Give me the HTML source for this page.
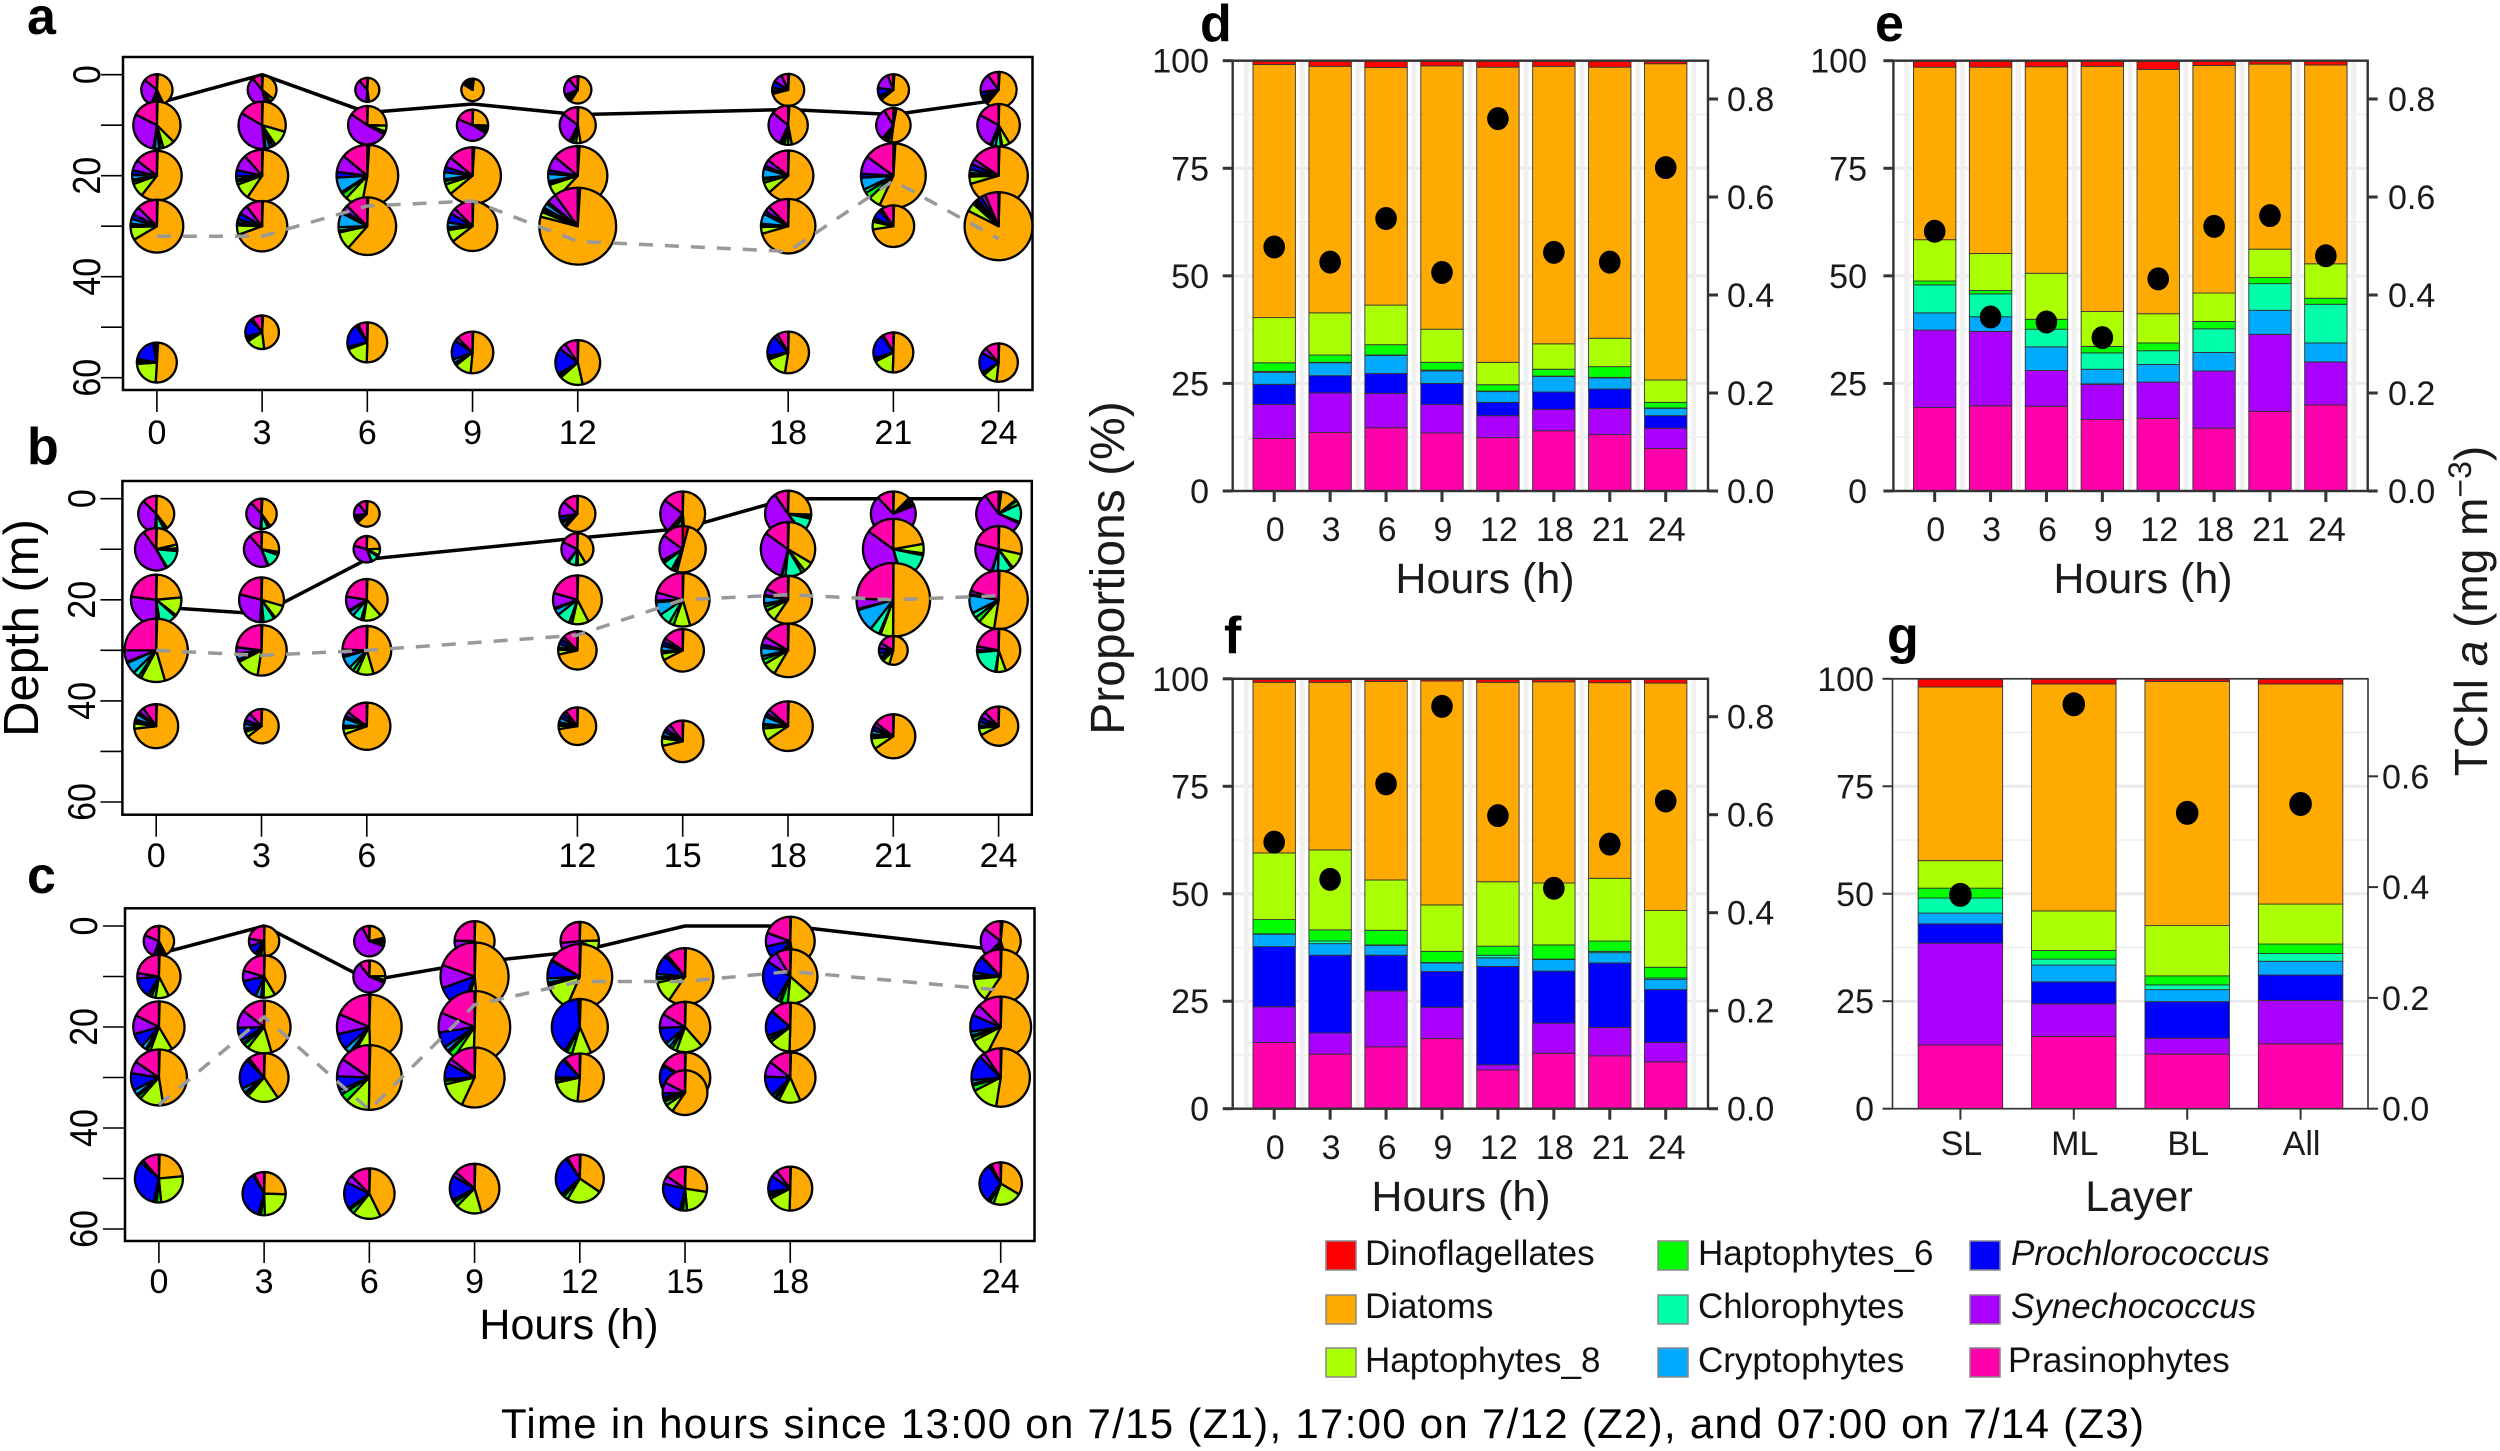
<!DOCTYPE html>
<html lang="en">
<head>
<meta charset="utf-8">
<title>Phytoplankton pigment composition panels</title>
<style>
html,body{margin:0;padding:0;background:#fff;}
svg{display:block;font-family:"Liberation Sans",Arial,sans-serif;}
</style>
</head>
<body>
<svg id="figure" xmlns="http://www.w3.org/2000/svg" width="2500" height="1451" viewBox="0 0 2500 1451">
<rect x="0" y="0" width="2500" height="1451" fill="#fff"/>
<g id="panel-a"></g>
<g id="panel-b"></g>
<g id="panel-c"></g>
<g id="panel-d"></g>
<g id="panel-e"></g>
<g id="panel-f"></g>
<g id="panel-g"></g>

<g font-weight="700" font-size="52" fill="#000">
<text x="27" y="34">a</text>
<text x="27" y="464">b</text>
<text x="27" y="893">c</text>
<text x="1200" y="41">d</text>
<text x="1875" y="41">e</text>
<text x="1224" y="653">f</text>
<text x="1887" y="653">g</text>
</g>

<text transform="translate(38 628) rotate(-90)" text-anchor="middle" font-size="49" fill="#000">Depth (m)</text>
<text x="569" y="1339" text-anchor="middle" font-size="43" fill="#000">Hours (h)</text>
<text x="1485" y="593" text-anchor="middle" font-size="43" fill="#1a1a1a">Hours (h)</text>
<text x="2143" y="593" text-anchor="middle" font-size="43" fill="#1a1a1a">Hours (h)</text>
<text x="1461" y="1211" text-anchor="middle" font-size="43" fill="#1a1a1a">Hours (h)</text>
<text x="2139" y="1211" text-anchor="middle" font-size="43" fill="#1a1a1a">Layer</text>
<text transform="translate(1124 568) rotate(-90)" text-anchor="middle" font-size="48" fill="#1a1a1a">Proportions (%)</text>
<text transform="translate(2487 611) rotate(-90)" text-anchor="middle" font-size="46" fill="#1a1a1a">TChl <tspan font-style="italic">a</tspan> (mg m<tspan font-size="32" dy="-16">−3</tspan><tspan dy="16">)</tspan></text>

<g id="legend" font-size="35" fill="#111">
<g><rect x="1326" y="1241" width="30" height="29" fill="#ff0000" stroke="#888" stroke-width="1.5"/><text x="1365" y="1265">Dinoflagellates</text></g>
<g><rect x="1326" y="1295" width="30" height="29" fill="#ffaa00" stroke="#888" stroke-width="1.5"/><text x="1365" y="1318">Diatoms</text></g>
<g><rect x="1326" y="1348" width="30" height="29" fill="#aaff00" stroke="#888" stroke-width="1.5"/><text x="1365" y="1372">Haptophytes_8</text></g>
<g><rect x="1658" y="1241" width="30" height="29" fill="#00ff00" stroke="#888" stroke-width="1.5"/><text x="1698" y="1265">Haptophytes_6</text></g>
<g><rect x="1658" y="1295" width="30" height="29" fill="#00ffaa" stroke="#888" stroke-width="1.5"/><text x="1698" y="1318">Chlorophytes</text></g>
<g><rect x="1658" y="1348" width="30" height="29" fill="#00aaff" stroke="#888" stroke-width="1.5"/><text x="1698" y="1372">Cryptophytes</text></g>
<g><rect x="1970" y="1241" width="30" height="29" fill="#0000ff" stroke="#888" stroke-width="1.5"/><text x="2011" y="1265" font-style="italic">Prochlorococcus</text></g>
<g><rect x="1970" y="1295" width="30" height="29" fill="#aa00ff" stroke="#888" stroke-width="1.5"/><text x="2011" y="1318" font-style="italic">Synechococcus</text></g>
<g><rect x="1970" y="1348" width="30" height="29" fill="#ff00aa" stroke="#888" stroke-width="1.5"/><text x="2008" y="1372">Prasinophytes</text></g>
</g>

<text x="501" y="1438" font-size="42" fill="#000" textLength="1643" lengthAdjust="spacing">Time in hours since 13:00 on 7/15 (Z1), 17:00 on 7/12 (Z2), and 07:00 on 7/14 (Z3)</text>
</svg>

<script>
/* ---------- shared categories ---------- */
const speciesNames = ['dinoflagellates','diatoms','haptophytes-8','haptophytes-6','chlorophytes','cryptophytes','prochlorococcus','synechococcus','prasinophytes'];
const speciesColors = ['#ff0000','#ffaa00','#aaff00','#00ff00','#00ffaa','#00aaff','#0000ff','#aa00ff','#ff00aa'];
const depthTicks = [0,10,20,30,40,50,60];
const depthTickLabels = ['0','','20','','40','','60'];

/* ---------- panel a: pies. composition order = speciesNames ---------- */
const aHours = [0,3,6,9,12,18,21,24];
const aMixedDepth = [5.7,0,7.5,5.8,7.9,6.9,7.9,5];
const aChlMaxDepth = [32,32,26,25,33,35,21,32.5];
const aSampleDepths = [[3,10,20,30,57],[3,10,20,30,51],[3,10,20,30,53],[3,10,20,30,55],[3,10,20,30,57],[3,10,20,30,55],[3,10,20,30,55],[3,10,20,30,57]];
const aTChl = [[.39,.59,.62,.66,.50],[.36,.59,.65,.63,.42],[.30,.48,.77,.72,.50],[.28,.39,.71,.62,.52],[.34,.45,.74,.96,.56],[.40,.49,.63,.68,.52],[.39,.43,.81,.52,.50],[.45,.53,.73,.85,.48]];
const aComposition = [
[[1,42,3,2,3,2,3,30,14],[.5,37,8,2,1,3,1,30,17.5],[.5,60,9,2,1,3,3,7,14.5],[.5,66,8,1,1,3,3,5,12.5],[1,50,23,2,.5,1.5,19,1,2]],
[[1,35,4,2,2,1,1,43,11],[.5,29,11,2,2,3,1,35,16.5],[.5,59,10,2,1,2,4,10,11.5],[.5,69,6,1,1,2,4,6,10.5],[1,47,18,2,1,2,17,2,10]],
[[1,47,1,.5,.5,.5,.5,38,11.5],[.5,25,5,1,.5,.5,.5,52,15.5],[1,52,9,3,1,8,3,9,14],[.5,61,10,1,2,8,2,3,12.5],[.5,50,19,1,.5,.5,19,2,7.5]],
[[2,82,1,1,2,2,2,4,4],[.5,25,2,1,2,2,1,48,18.5],[1,63,6,2,1,4,3,6,14],[.5,64,8,1,1,3,6,4,12.5],[.5,51,13,1,1,3,15,3,12.5]],
[[1,58,2,1,1,3,3,20,11],[.5,47,4,3,1,1,1,28,14.5],[1,61,8,1,1,4,2,8,14],[1,78,2,1,1,2,1,4,10],[.5,46,17,1,1,1,19,5,9.5]],
[[1,70,1,1,1,3,7,9,7],[1,46,3,3,2,1,1,29,14],[.5,63,7,2,1,6,2,4,14.5],[.5,70,4,1,1,6,2,3,12.5],[.5,52,17,2,.5,.5,16,3,8.5]],
[[1,63,1,1,1,2,8,17,6],[3,49,3,2,2,1,1,30,9],[1,56,6,3,2,6,2,9,15],[.5,72,6,1,1,1,7,2,9.5],[.5,50,17,2,.5,.5,20,1,8.5]],
[[1,60,2,2,2,2,4,17,10],[.5,41,6,1,4,3,1,27,17],[.5,70,4,1,1,2,3,3,15.5],[.5,82,4,1,1,1,2,2,6.5],[.5,51,12,1,.5,1,17,5,11.5]]
];

/* ---------- panel b: pies ---------- */
const bHours = [0,3,6,12,15,18,21,24];
const bMixedDepth = [21.4,22.8,12,7.8,5.9,0,0,0];
const bChlMaxDepth = [30,31,30,27,20,19,20,19.2];
const bSampleDepths = [[3,10,20,30,45],[3,10,20,30,45],[3,10,20,30,45],[3,10,20,30,45],[3,10,20,30,48],[3,10,20,30,45],[3,10,20,30,47],[3,10,20,30,45]];
const bTChl = [[.45,.53,.63,.79,.55],[.38,.44,.56,.63,.43],[.32,.33,.52,.61,.59],[.45,.40,.61,.48,.47],[.56,.58,.67,.53,.52],[.58,.68,.60,.67,.62],[.56,.76,.92,.36,.55],[.56,.58,.73,.54,.49]];
const bComposition = [
[[.5,39,1,2,7,1,1,36,12.5],[.5,21,3,2,15,.5,.5,48,10],[.5,23,12,1,11,2,.5,27,23],[.5,45,12.5,1.5,3,6,.5,6,25],[.5,73,4,1.5,1.5,4,2,4,10]],
[[1,39,1,2,7,.5,.5,37,12],[.5,27,1,2,13,.5,.5,44,11.5],[.5,29,10,1,8,2,.5,28,21],[.5,52,15,1,.5,3,1,4,23],[.5,64,5,2,1.5,4,4,7,12]],
[[1,62,1,2,2,2,3,16,11],[.5,24,8,2,9,.5,.5,35,20.5],[.5,38,14,2,7,4,1,11,22.5],[.5,45,11,3,3,8,1,4,24.5],[.5,70,4,1,1,5,2,3,15]],
[[.5,61,1,1,3,2,4,14,13.5],[.5,41,8,2,8,.5,.5,22,17.5],[.5,42,11,2,9,4,1,10,20.5],[.5,71,4,1,1,3,4,3,12.5],[.5,72,3,2,1,4,4,3,10.5]],
[[.5,48,1,2,5,3,2,24,14.5],[4,50,2,2,7,1,1,18,15],[.5,45,10,3,7,8,1,5,20.5],[.5,67,5,1,1,4,3,3,15.5],[.5,71,6,1,1,3,3,4,10.5]],
[[.5,25,1,2,11,.5,.5,50,9.5],[.5,33,6,2,10,2,.5,31,15],[.5,59,8,3,2,5,1,4,17.5],[.5,58,8,3,2,5,2,5,16.5],[.5,65,8,2,1,5,2,3,13.5]],
[[.5,12,2,1,2,1,.5,69,12],[.2,22,5,1,17,.4,.4,39,15],[.1,50,5.5,.7,4.2,10,.5,4.5,24.5],[.5,54,8,3,2,4,6,6,16.5],[.5,65,8,2,1,3,3,3,14.5]],
[[2,12,1,3,13,.5,.5,58,10],[.5,28,11,1,10,4,.5,24,21],[.5,52,9,3,3,10,.5,2,20],[.5,44,7,1,21,.5,1,3,22],[.5,67,6,1,1,3,4,5,12.5]]
];

/* ---------- panel c: pies ---------- */
const cHours = [0,3,6,9,12,15,18,24];
const cMixedDepth = [5.5,0,10.8,7.2,5,0,0,4.8];
const cChlMaxDepth = [35.4,18,36.4,15.6,11,11,9,12.7];
const cSampleDepths = [[3,10,20,30,50],[3,10,20,30,53],[3,10,20,30,53],[3,10,20,30,52],[3,10,20,30,50],[10,20,30,33,52],[3,10,20,30,52],[3,10,20,30,51]];
const cTChl = [[.38,.54,.64,.70,.60],[.38,.53,.66,.61,.54],[.38,.40,.81,.81,.63],[.50,.85,.90,.75,.62],[.48,.81,.70,.60,.60],[.71,.63,.63,.56,.55],[.61,.68,.61,.63,.55],[.50,.68,.76,.73,.53]];
const cComposition = [
[[.5,42,3,2,2,2,4,26,18.5],[.5,42,10,3,1,2,15,4,22.5],[.5,41,14,2,1,3,9,12,17.5],[.5,47,14,2,1,3,10,7,15.5],[.5,23,25,3,1,1,33,2,11.5]],
[[.5,49,4,3,1,2,10,8,22.5],[.5,41,9,1,1,4,15,8,20.5],[.5,45,15,3,1,2,8,11,14.5],[.5,40,21,2,1,3,20,2,10.5],[.5,25,24,3,1,1,37,1,7.5]],
[[.5,21,1,2,2,3,1,62,7.5],[.5,24,4,1,1,.5,.5,58,10.5],[.5,49,9,1,1,3,8,10,18.5],[.5,50,12,4,.5,2,7,9,15.5],[.5,42,18,3,.5,1,17,5,12.5]],
[[.5,44,5,2,1,1,5,17,24.5],[.5,48,5,1,1,1,13,11,19.5],[.5,50,9,3,1,2,7,9,18.5],[.5,59,15,2,.5,.5,9,3,15],[.5,45,17,3,1,1,16,3,13.5]],
[[.5,24,8,2,1,2,4,32,26.5],[.5,56,14,1,.5,2,9,.5,16.5],[.5,43,11,3,.5,1,40,.5,.5],[.5,51,20,2,.5,1,13,1,11],[.5,34,24,3,1,1,27,1,8.5]],
[[.5,59,12,2,1,2,11,1.5,11],[.5,38,17,3,2,3,11,9,16.5],[.5,48,8,1,1,2,22,1,16.5],[.5,59,6,3,1,2,3,8,17.5],[.5,27,21,3,1,1,25,6,15.5]],
[[.5,47,6,3,1,3,11,9,19.5],[.5,36,15,4,1,2,26,7,8.5],[.5,50,14,2,.5,2,17,.5,13.5],[.5,43,14,2,1,2,13,10,14.5],[.5,50,17,2,1,2,12,5,10.5]],
[[1.5,44,3,3,2,3,6,23,14.5],[.5,59,14,1,1,2,10,.5,12],[.5,57,10,2,1,2,9,6,12.5],[.5,52,15,3,1,2,14,3,9.5],[.5,33,22,3,1,1,30,2,7.5]]
];

/* ---------- bar panels: shared ticks ---------- */
const percentTicks = [0,25,50,75,100];
const percentMinorTicks = [12.5,37.5,62.5,87.5];
const tchlTicks = ['0.0','0.2','0.4','0.6','0.8'];
const tchlTicksG = ['0.0','0.2','0.4','0.6'];

/* ---------- panel d ---------- */
const dCategories = ['0','3','6','9','12','18','21','24'];
const dPrasinophytes = [12.2,13.6,14.7,13.5,12.4,14,13.1,9.9];
const dSynechococcus = [7.9,9.2,8,6.6,5.1,5,6.1,4.7];
const dProchlorococcus = [4.7,4,4.6,4.9,3.1,4,4.5,2.9];
const dCryptophytes = [2.8,3,4.2,2.9,2.5,3.6,2.6,1.7];
const dChlorophytes = [.2,.1,.1,.2,.1,.1,.1,.1];
const dHaptophytes6 = [2,1.7,2.4,1.8,1.5,1.6,2.5,1.3];
const dHaptophytes8 = [10.5,9.8,9.2,7.7,5.2,5.9,6.6,5.2];
const dDiatoms = [58.8,57.3,55.2,61.2,68.6,64.5,63,73.5];
const dDinoflagellates = [.9,1.3,1.7,1.4,1.6,1.4,1.6,.8];
const dTChl = [.498,.467,.556,.446,.76,.487,.467,.66];

/* ---------- panel e ---------- */
const eCategories = ['0','3','6','9','12','18','21','24'];
const ePrasinophytes = [19.4,19.8,19.7,16.6,16.9,14.6,18.5,20];
const eSynechococcus = [18,17.3,8.3,8.2,8.4,13.3,17.9,10];
const eProchlorococcus = [0,0,0,0.1,0,0,0,0];
const eCryptophytes = [4,3.4,5.5,3.4,4.1,4.3,5.6,4.4];
const eChlorophytes = [6.5,5.3,4.1,3.8,3.2,5.5,6.2,9];
const eHaptophytes6 = [.9,.8,2.3,1.5,1.8,1.7,1.4,1.4];
const eHaptophytes8 = [9.6,8.6,10.7,8.1,6.8,6.6,6.6,8];
const eDiatoms = [40.1,43.3,48,57,56.8,52.9,43,46.2];
const eDinoflagellates = [1.5,1.5,1.4,1.4,2,1.1,.8,1];
const eTChl = [.53,.355,.345,.313,.433,.54,.562,.48];

/* ---------- panel f ---------- */
const fCategories = ['0','3','6','9','12','18','21','24'];
const fPrasinophytes = [15.4,12.7,14.4,16.3,9,12.9,12.3,10.9];
const fSynechococcus = [8.3,4.9,13,7.3,1.2,7,6.6,4.5];
const fProchlorococcus = [14,18.1,8.3,8.3,22.9,12.1,15,12.3];
const fCryptophytes = [2.9,2.7,2.3,2,2,2.7,2.4,2.4];
const fChlorophytes = [.1,.6,.1,.1,.6,.1,.3,.3];
const fHaptophytes6 = [3.3,2.6,3.4,2.6,2.1,3.3,2.4,2.5];
const fHaptophytes8 = [15.5,18.6,11.7,10.8,15,14.4,14.6,13.2];
const fDiatoms = [39.7,39,46.2,52.1,46.4,46.8,45.5,52.9];
const fDinoflagellates = [.8,.8,.6,.5,.8,.8,.9,1];
const fTChl = [.544,.468,.663,.821,.598,.45,.54,.628];

/* ---------- panel g ---------- */
const gCategories = ['SL','ML','BL','All'];
const gPrasinophytes = [14.8,16.8,12.7,15.1];
const gSynechococcus = [23.7,7.6,3.7,10.1];
const gProchlorococcus = [4.5,5.1,8.5,5.9];
const gCryptophytes = [2.5,3.9,2.8,3.2];
const gChlorophytes = [3.5,1.4,1.1,1.8];
const gHaptophytes6 = [2.3,2,2.1,2.2];
const gHaptophytes8 = [6.4,9.2,11.7,9.3];
const gDiatoms = [40.4,52.8,56.8,51.2];
const gDinoflagellates = [1.9,1.2,.6,1.2];
const gTChl = [.386,.73,.534,.55];

const SVGNS = 'http://www.w3.org/2000/svg';
function make(tag, attrs, parent) {
  const n = document.createElementNS(SVGNS, tag);
  for (const k in attrs) n.setAttribute(k, attrs[k]);
  parent.appendChild(n);
  return n;
}
function wedgePath(cx, cy, r, a0, a1) {
  const x0 = cx + r * Math.sin(a0), y0 = cy - r * Math.cos(a0);
  const x1 = cx + r * Math.sin(a1), y1 = cy - r * Math.cos(a1);
  const large = a1 - a0 > Math.PI ? 1 : 0;
  return 'M' + cx + ' ' + cy + 'L' + x0.toFixed(2) + ' ' + y0.toFixed(2) + 'A' + r + ' ' + r + ' 0 ' + large + ' 1 ' + x1.toFixed(2) + ' ' + y1.toFixed(2) + 'Z';
}

function drawPiePanel(id, hours, mixed, chlMax, depths, tchl, comp, g) {
  const root = document.getElementById(id);
  const x = h => g.x0 + h * (g.x24 - g.x0) / 24;
  const y = d => g.y0 + d * (g.y60 - g.y0) / 60;
  const rad = v => v * 40;

  const black = make('polyline', {points: hours.map((h, i) => x(h) + ',' + y(mixed[i])).join(' '), fill: 'none', stroke: '#000', 'stroke-width': 3.5, 'stroke-linejoin': 'round'}, root);
  
  

  hours.forEach((h, i) => {
    depths[i].forEach((d, j) => {
      const pie = make('g', {}, root);
      
      
      const total = comp[i][j].reduce((a, b) => a + b, 0);
      let a = 0;
      comp[i][j].forEach((v, k) => {
        if (v <= 0) return;
        const a1 = a + v / total * 2 * Math.PI;
        const s = make('path', {d: wedgePath(x(h), y(d), rad(tchl[i][j]), a, a1), fill: speciesColors[k], stroke: '#000', 'stroke-width': 2.3, 'stroke-linejoin': 'round'}, pie);
        
        
        a = a1;
      });
    });
  });

  const grey = make('polyline', {points: hours.map((h, i) => x(h) + ',' + y(chlMax[i])).join(' '), fill: 'none', stroke: '#999', 'stroke-width': 3.5, 'stroke-dasharray': '14 12'}, root);
  
  

  const frame = make('rect', {x: g.left, y: g.top, width: g.right - g.left, height: g.bottom - g.top, fill: 'none', stroke: '#000', 'stroke-width': 2.5}, root);
  
  

  depthTicks.forEach((d, i) => {
    const t = make('line', {x1: g.left - 22, x2: g.left, y1: y(d), y2: y(d), stroke: '#000', 'stroke-width': 1.6}, root);
    
    
    if (depthTickLabels[i]) {
      const l = make('text', {transform: 'translate(' + g.labelX + ' ' + y(d) + ') rotate(-90) scale(1 1.14)', 'text-anchor': 'middle', 'font-size': 34, fill: '#000'}, root);
      
      
      l.textContent = depthTickLabels[i];
    }
  });
  hours.forEach(h => {
    const t = make('line', {x1: x(h), x2: x(h), y1: g.bottom, y2: g.bottom + 22, stroke: '#000', 'stroke-width': 1.6}, root);
    
    
    const l = make('text', {x: x(h), y: g.tickBase, 'text-anchor': 'middle', 'font-size': 34, fill: '#000'}, root);
    
    
    l.textContent = h;
  });
}

function drawBarPanel(id, cats, stack, tchl, rightTicks, g) {
  const root = document.getElementById(id);
  const xc = i => g.firstX + i * g.step;
  const y = p => g.bottom - p * (g.bottom - g.top) / 100;
  const yr = v => g.bottom - v * g.rightScale;

  percentMinorTicks.forEach(p => {
    const ln = make('line', {x1: g.left, x2: g.right, y1: y(p), y2: y(p), stroke: '#f0f0f0', 'stroke-width': 1.6}, root);
    
    
  });
  percentTicks.forEach(p => {
    const ln = make('line', {x1: g.left, x2: g.right, y1: y(p), y2: y(p), stroke: '#ebebeb', 'stroke-width': 3}, root);
    
    
  });
  if (g.vGrid) {
    for (let i = 0; i <= cats.length; i++) {
      const vx = xc(i) - g.step / 2;
      const ln = make('line', {x1: vx, x2: vx, y1: g.top, y2: g.bottom, stroke: '#f0f0f0', 'stroke-width': 5}, root);
      
      
    }
  }
  const order = ['prasinophytes','synechococcus','prochlorococcus','cryptophytes','chlorophytes','haptophytes-6','haptophytes-8','diatoms','dinoflagellates'];
  cats.forEach((c, i) => {
    let cum = 0;
    stack.forEach((series, k) => {
      const v = series[i];
      if (v > 0) {
        const colour = speciesColors[speciesNames.indexOf(order[k])];
        const r = make('rect', {x: xc(i) - g.barW / 2, y: y(cum + v), width: g.barW, height: y(cum) - y(cum + v), fill: colour, stroke: '#333', 'stroke-width': 0.9}, root);
        
        
      }
      cum += v;
    });
  });
  const frame = make('rect', {x: g.left, y: g.top, width: g.right - g.left, height: g.bottom - g.top, fill: 'none', stroke: '#333', 'stroke-width': g.frameW}, root);
  
  
  tchl.forEach((v, i) => {
    const d = make('ellipse', {cx: xc(i), cy: yr(v), rx: g.dot, ry: g.dot + 0.7, fill: '#000'}, root);
    
    
  });
  percentTicks.forEach(p => {
    const t = make('line', {x1: g.left - 10, x2: g.left, y1: y(p), y2: y(p), stroke: '#333', 'stroke-width': g.tickW}, root);
    
    
    const l = make('text', {x: g.leftLabel, y: y(p) + 12, 'text-anchor': 'end', 'font-size': 34, fill: '#1a1a1a'}, root);
    
    
    l.textContent = p;
  });
  rightTicks.forEach(s => {
    const v = parseFloat(s);
    const t = make('line', {x1: g.right, x2: g.right + 10, y1: yr(v), y2: yr(v), stroke: '#333', 'stroke-width': g.tickW}, root);
    
    
    const l = make('text', {x: g.rightLabel, y: yr(v) + 12, 'font-size': 34, fill: '#1a1a1a'}, root);
    
    
    l.textContent = s;
  });
  cats.forEach((c, i) => {
    const t = make('line', {x1: xc(i), x2: xc(i), y1: g.bottom, y2: g.bottom + 11, stroke: '#333', 'stroke-width': g.tickW}, root);
    
    
    const l = make('text', {x: xc(i) + 1, y: g.tickBase, 'text-anchor': 'middle', 'font-size': 34, fill: '#1a1a1a'}, root);
    
    
    l.textContent = c;
  });
}

drawPiePanel('panel-a', aHours, aMixedDepth, aChlMaxDepth, aSampleDepths, aTChl, aComposition,
  {x0: 156.9, x24: 998.6, y0: 74.7, y60: 377.7, left: 123, right: 1032.5, top: 57, bottom: 390, labelX: 100, tickBase: 444});
drawPiePanel('panel-b', bHours, bMixedDepth, bChlMaxDepth, bSampleDepths, bTChl, bComposition,
  {x0: 156.2, x24: 998.6, y0: 498.7, y60: 802, left: 122.4, right: 1031.8, top: 481, bottom: 814.7, labelX: 95, tickBase: 867});
drawPiePanel('panel-c', cHours, cMixedDepth, cChlMaxDepth, cSampleDepths, cTChl, cComposition,
  {x0: 158.9, x24: 1000.7, y0: 926, y60: 1229, left: 125, right: 1034.5, top: 908.3, bottom: 1241, labelX: 97, tickBase: 1293});

drawBarPanel('panel-d', dCategories,
  [dPrasinophytes,dSynechococcus,dProchlorococcus,dCryptophytes,dChlorophytes,dHaptophytes6,dHaptophytes8,dDiatoms,dDinoflagellates],
  dTChl, tchlTicks,
  {left: 1232.7, right: 1708, top: 60.7, bottom: 491, firstX: 1274.2, step: 55.93, barW: 42.4, rightScale: 490, leftLabel: 1209, rightLabel: 1727, tickBase: 541, vGrid: true, dot: 10.8, tickW: 3, frameW: 2.4});
drawBarPanel('panel-e', eCategories,
  [ePrasinophytes,eSynechococcus,eProchlorococcus,eCryptophytes,eChlorophytes,eHaptophytes6,eHaptophytes8,eDiatoms,eDinoflagellates],
  eTChl, tchlTicks,
  {left: 1893.4, right: 2367.7, top: 60.7, bottom: 491, firstX: 1934.7, step: 55.88, barW: 42.4, rightScale: 490, leftLabel: 1867, rightLabel: 2388, tickBase: 541, vGrid: true, dot: 10.8, tickW: 3, frameW: 2.4});
drawBarPanel('panel-f', fCategories,
  [fPrasinophytes,fSynechococcus,fProchlorococcus,fCryptophytes,fChlorophytes,fHaptophytes6,fHaptophytes8,fDiatoms,fDinoflagellates],
  fTChl, tchlTicks,
  {left: 1232.7, right: 1708, top: 678.8, bottom: 1108.7, firstX: 1274.2, step: 55.93, barW: 42.4, rightScale: 490, leftLabel: 1209, rightLabel: 1727, tickBase: 1159, vGrid: true, dot: 10.8, tickW: 3, frameW: 2.4});
drawBarPanel('panel-g', gCategories,
  [gPrasinophytes,gSynechococcus,gProchlorococcus,gCryptophytes,gChlorophytes,gHaptophytes6,gHaptophytes8,gDiatoms,gDinoflagellates],
  gTChl, tchlTicksG,
  {left: 1892.5, right: 2368, top: 678.8, bottom: 1108.7, firstX: 1960.4, step: 113.4, barW: 84.5, rightScale: 554, leftLabel: 1874, rightLabel: 2382, tickBase: 1155, vGrid: false, dot: 11.3, tickW: 2, frameW: 1.6});
</script>
</body>
</html>
